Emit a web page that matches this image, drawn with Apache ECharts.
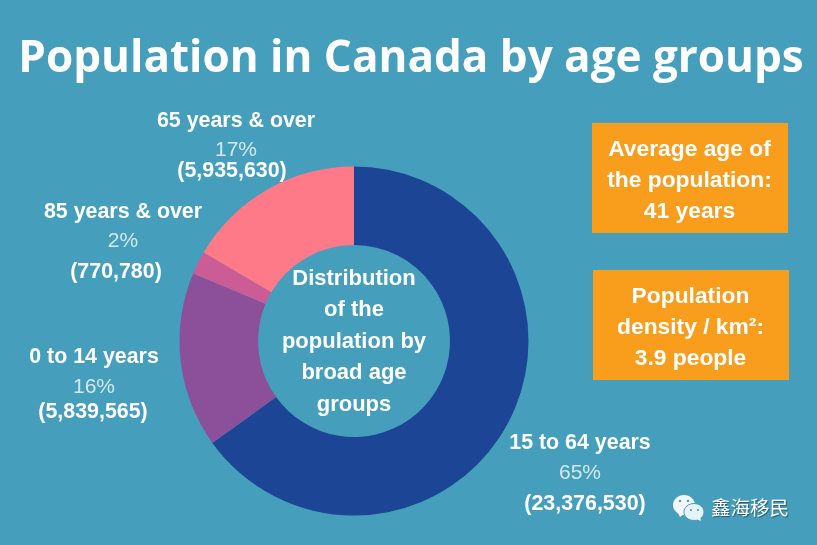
<!DOCTYPE html>
<html>
<head>
<meta charset="utf-8">
<style>
html, body { margin: 0; padding: 0; background: #459fbc; }
#chart { width: 817px; height: 545px; }
</style>
<script src="https://cdn.jsdelivr.net/npm/echarts@6/dist/echarts.min.js"></script>
</head>
<body>
<div id="chart"></div>
<script>
const ageGroups = ['15 to 64 years', '0 to 14 years', '85 years & over', '65 years & over'];
const populations = [23376530, 5839565, 770780, 5935630];
const shares = ['65%', '16%', '2%', '17%'];
const counts = ['(23,376,530)', '(5,839,565)', '(770,780)', '(5,935,630)'];
const sliceColors = ['#1c4596', '#8b5099', '#cc5c96', '#ff7a88'];

// label anchors: center x of name/share, center x of count, y of each of the three lines
const labelX = [580, 94, 123, 236];
const countX = [585, 93, 116, 232];
const labelY = [[443, 473, 504], [357, 387, 412], [212, 241, 272], [121, 150, 171]];

const centerLines = ['Distribution', 'of the', 'population by', 'broad age', 'groups'];
const centerY = [279, 310, 342, 373, 405];
const boxes = [
    { x: 592, y: 123, lines: ['Average age of', 'the population:', '41 years'] },
    { x: 593, y: 270, lines: ['Population', 'density / km²:', '3.9 people'] }
];

const sansFont = '"Liberation Sans", Arial, sans-serif';

function textEl(x, y, text, style) {
    return {
        type: 'text', x: x, y: y, z: 10,
        style: Object.assign({
            text: text, fill: '#fff', align: 'center', verticalAlign: 'middle',
            fontFamily: sansFont, fontWeight: 'bold', fontSize: 21.4
        }, style)
    };
}

let elements = [];

elements.push(textEl(411, 59, 'Population in Canada by age groups', {
    fontFamily: '"Open Sans", sans-serif', fontSize: 44, fontWeight: 'bold'
}));

ageGroups.forEach((name, i) => {
    elements.push(textEl(labelX[i], labelY[i][0], name));
    elements.push(textEl(labelX[i], labelY[i][1], shares[i], { fontWeight: 'normal', fill: '#d3e8ef', fontSize: 21 }));
    elements.push(textEl(countX[i], labelY[i][2], counts[i]));
});

centerLines.forEach((line, i) => {
    elements.push(textEl(354, centerY[i], line, { fontSize: 22 }));
});

boxes.forEach(box => {
    elements.push({
        type: 'rect', z: 5,
        shape: { x: box.x, y: box.y, width: 196, height: 110 },
        style: { fill: '#f99d1c' }
    });
    box.lines.forEach((line, i) => {
        elements.push(textEl(box.x + 97.5, box.y + 27 + i * 31, line, { fontSize: 22.8 }));
    });
});

// wechat style mark next to the account name
elements.push({ type: 'ellipse', z: 6, shape: { cx: 684, cy: 505, rx: 11, ry: 10 }, style: { fill: '#f2f8fa' } });
elements.push({ type: 'polygon', z: 6, shape: { points: [[677, 511], [680, 517], [685, 513]] }, style: { fill: '#f2f8fa' } });
elements.push({ type: 'ellipse', z: 7, shape: { cx: 694, cy: 512, rx: 10, ry: 8.5 }, style: { fill: '#e6f2f6', stroke: '#459fbc', lineWidth: 1 } });
elements.push({ type: 'polygon', z: 7, shape: { points: [[696, 519], [701, 521], [700, 516]] }, style: { fill: '#e6f2f6' } });
[[680, 501], [688, 501]].forEach(p => {
    elements.push({ type: 'circle', z: 8, shape: { cx: p[0], cy: p[1], r: 1.2 }, style: { fill: '#459fbc' } });
});
[[691, 510], [698, 510]].forEach(p => {
    elements.push({ type: 'circle', z: 8, shape: { cx: p[0], cy: p[1], r: 1.1 }, style: { fill: '#459fbc' } });
});
elements.push(textEl(750, 508, '鑫海移民', {
    fontFamily: '"Noto Sans CJK SC", sans-serif', fontWeight: 'normal', fontSize: 19.5,
    textShadowColor: 'rgba(0,0,0,0.45)', textShadowBlur: 1, textShadowOffsetX: 1, textShadowOffsetY: 1
}));

const chart = echarts.init(document.getElementById('chart'));
chart.setOption({
    backgroundColor: '#459fbc',
    animation: false,
    series: [{
        type: 'pie',
        center: [354, 341],
        radius: [96, 174.5],
        startAngle: 90,
        clockwise: true,
        label: { show: false },
        labelLine: { show: false },
        emphasis: { disabled: true },
        data: ageGroups.map((name, i) => ({
            name: name,
            value: populations[i],
            itemStyle: { color: sliceColors[i] }
        }))
    }],
    graphic: { elements: elements }
});
</script>
</body>
</html>
